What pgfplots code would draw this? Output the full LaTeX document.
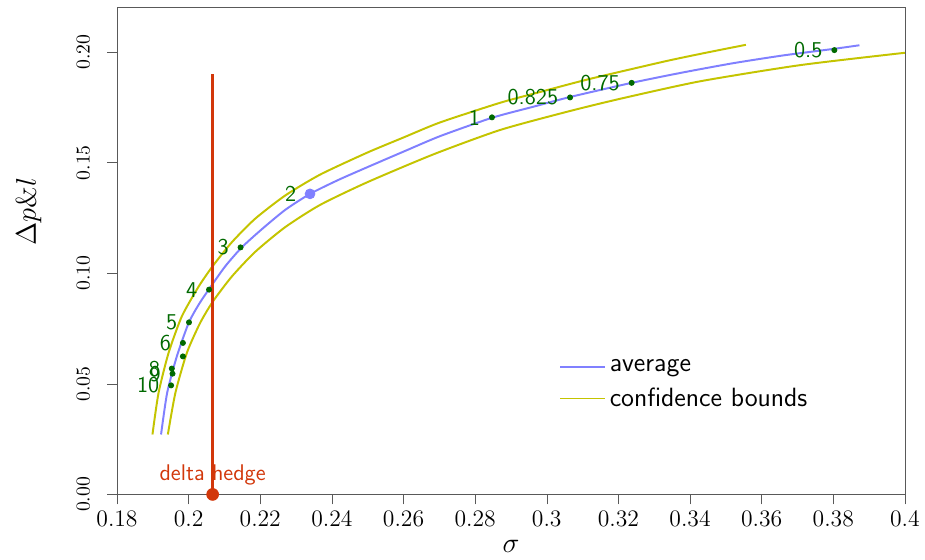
\documentclass[border=0pt]{standalone}
\usepackage{pgfplots}
\pgfplotsset{compat=1.18}
\definecolor{avgblue}{RGB}{128,128,255}
\definecolor{confy}{RGB}{196,196,0}
\definecolor{dgreen}{RGB}{0,105,0}
\definecolor{hred}{RGB}{210,55,10}
\begin{document}
\begin{tikzpicture}
\begin{axis}[
  scale only axis, width=400pt, height=247pt,
  xmin=0.18, xmax=0.4, ymin=0, ymax=0.22,
  xtick={0.18,0.2,0.22,0.24,0.26,0.28,0.3,0.32,0.34,0.36,0.38,0.4},
  ytick={0,0.05,0.1,0.15,0.2},
  tick pos=left, tick align=outside, major tick length=5pt,
  axis line style={black!65}, tick style={black!65},
  y tick label style={rotate=90, anchor=south},
  yticklabel shift=5.4pt,
  yticklabel style={/pgf/number format/fixed, /pgf/number format/fixed zerofill, /pgf/number format/precision=2},
  x tick label style={font=\fontsize{12.6}{14}\selectfont},
  xticklabel style={/pgf/number format/fixed, /pgf/number format/precision=2},
  xlabel={$\sigma$}, ylabel={$\Delta p\&l$},
  label style={font=\Large},
  ylabel style={at={(axis description cs:-0.112,0.581)}, anchor=center},
  legend style={at={(0.553,0.294)}, anchor=north west, draw=none, fill=none,
    row sep=2.6pt, font=\sffamily\fontsize{13.4}{16.5}\selectfont},
  legend cell align=left,
  legend image code/.code={\draw[#1] (0cm,0cm) -- (0.8cm,0cm);},
]
\addplot[avgblue, line width=1pt, smooth, tension=0.4] coordinates {
(0.1923,0.0271) (0.1940,0.0459) (0.1967,0.0624) (0.2000,0.0775) (0.2028,0.0858)
(0.2056,0.0926) (0.2102,0.1031) (0.2149,0.1118) (0.2205,0.1200) (0.2270,0.1287)
(0.2339,0.1359) (0.2418,0.1422) (0.2498,0.1479) (0.2600,0.1550) (0.2702,0.1620)
(0.2847,0.1703) (0.2960,0.1752) (0.3065,0.1797) (0.3237,0.1861) (0.3380,0.1908)
(0.3521,0.1950) (0.3660,0.1985) (0.3803,0.2015) (0.3873,0.2031)};
\addlegendentry{average}
\addplot[confy, line width=1pt, smooth, tension=0.4] coordinates {
(0.1899,0.0271) (0.1916,0.0459) (0.1944,0.0640) (0.1981,0.0805) (0.2028,0.0940)
(0.2068,0.1034) (0.2121,0.1141) (0.2186,0.1247) (0.2270,0.1352) (0.2367,0.1446)
(0.2498,0.1545) (0.2600,0.1614) (0.2702,0.1682) (0.2870,0.1771) (0.2982,0.1820)
(0.3084,0.1864) (0.3149,0.1890) (0.3335,0.1960) (0.3450,0.1999) (0.3556,0.2033)};
\addlegendentry{confidence bounds}
\addplot[confy, line width=1pt, smooth, tension=0.4, forget plot] coordinates {
(0.1942,0.0271) (0.1963,0.0459) (0.1995,0.0640) (0.2032,0.0775) (0.2068,0.0873)
(0.2121,0.0986) (0.2186,0.1097) (0.2270,0.1209) (0.2367,0.1309) (0.2498,0.1411)
(0.2684,0.1538) (0.2870,0.1648) (0.3056,0.1730) (0.3205,0.1789) (0.3428,0.1868)
(0.3707,0.1941) (0.4000,0.1997) (0.4190,0.2030)};
% labelled dots
\addplot[only marks, mark=*, mark size=1.3pt, color=dgreen, forget plot,
  point meta=explicit symbolic, nodes near coords,
  nodes near coords style={anchor=east, xshift=-2.5pt, text=dgreen,
    font=\sffamily\fontsize{11.5}{13}\selectfont}] coordinates {
(0.3803,0.2009)[0.5] (0.3237,0.1861)[0.75] (0.3065,0.1795)[0.825]
(0.2847,0.1705)[1] (0.2145,0.1117)[3] (0.2057,0.0926)[4] (0.2001,0.0778)[5]
(0.1984,0.0685)[6] (0.1953,0.0569)[8] (0.1955,0.0546)[9] (0.1951,0.0493)[10]};
\addplot[only marks, mark=*, mark size=1.3pt, color=dgreen, forget plot] coordinates {(0.1984,0.0624)};
\addplot[only marks, mark=*, mark size=2.5pt, color=avgblue, forget plot,
  point meta=explicit symbolic, nodes near coords,
  nodes near coords style={anchor=east, xshift=-3.5pt, text=dgreen,
    font=\sffamily\fontsize{11.5}{13}\selectfont}] coordinates {(0.2339,0.1359)[2]};
% delta hedge
\addplot[hred, line width=1.2pt, forget plot] coordinates {(0.2067,0) (0.2067,0.190)};
\addplot[only marks, mark=*, mark size=3pt, color=hred, forget plot,
  point meta=explicit symbolic, nodes near coords,
  nodes near coords style={anchor=south, yshift=1pt, text=hred,
    font=\sffamily\fontsize{11.5}{13}\selectfont}] coordinates {(0.2067,0)[delta hedge]};
\end{axis}
\pgfresetboundingbox
\path ([shift={(-59.4pt,-33pt)}]current axis.south west) rectangle ([shift={(10.2pt,4pt)}]current axis.north east);
\end{tikzpicture}
\end{document}
